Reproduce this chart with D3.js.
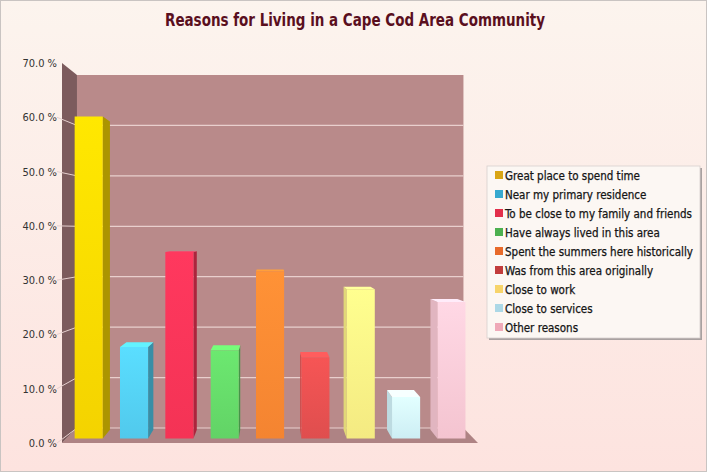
<!DOCTYPE html>
<html>
<head>
<meta charset="utf-8">
<script src="https://cdn.jsdelivr.net/npm/d3@7"></script>
<style>
  html, body { margin: 0; padding: 0; background: #fff; }
  svg { display: block; }
</style>
</head>
<body>
<svg id="chart"></svg>
<script>
const categories = [
  "Great place to spend time",
  "Near my primary residence",
  "To be close to my family and friends",
  "Have always lived in this area",
  "Spent the summers here historically",
  "Was from this area originally",
  "Close to work",
  "Close to services",
  "Other reasons"
];
const values = [60.6, 17.2, 35.1, 16.6, 31.5, 15.3, 28.1, 7.8, 25.7];
const yTicks = [0, 10, 20, 30, 40, 50, 60, 70];
const barColors = ["#ffdc00", "#55d2f6", "#ff3559", "#66dc6a", "#ff8a33", "#e95151", "#fff488", "#d6f8ff", "#ffcdd9"];
const legendColors = ["#d9a514", "#37a9cf", "#e2304c", "#4cb050", "#e86a2a", "#c23c3c", "#f7d46a", "#acd8e6", "#efa9b8"];

const W = 707, H = 472;
const svg = d3.select("#chart").attr("width", W).attr("height", H);
const defs = svg.append("defs");

const bg = defs.append("linearGradient").attr("id", "bg").attr("x1", 0).attr("y1", 0).attr("x2", 0).attr("y2", 1);
bg.append("stop").attr("offset", 0).attr("stop-color", "#fcf4ee");
bg.append("stop").attr("offset", 1).attr("stop-color", "#fde3df");
svg.append("rect").attr("x", 0.5).attr("y", 0.5).attr("width", W - 1).attr("height", H - 1)
  .attr("fill", "url(#bg)").attr("stroke", "#c9c4c2");

svg.append("text")
  .attr("x", 355).attr("y", 26)
  .attr("text-anchor", "middle")
  .attr("font-family", "DejaVu Sans Condensed, DejaVu Sans")
  .attr("font-weight", "bold")
  .attr("font-size", 17.5)
  .attr("textLength", 380).attr("lengthAdjust", "spacingAndGlyphs")
  .attr("fill", "#5a0f1e")
  .text("Reasons for Living in a Cape Cod Area Community");

// front-plane scales, then a simple perspective toward a vanishing point
const x = d3.scaleBand().domain(categories).range([62, 478]).paddingInner(0.38).paddingOuter(0.18);
const y = d3.scaleLinear().domain([0, 70]).range([443, 63]);
const VX = 273, VY = 232, K = 0.071;
const P = (px, py, t) => {
  const s = 1 - K * t;
  return [VX + (px - VX) * s, VY + (py - VY) * s];
};
const poly = pts => pts.map(p => p.join(",")).join(" ");

const x0 = 62, x1 = 478;
// floor
svg.append("polygon")
  .attr("points", poly([P(x0, y(0), 0), P(x1, y(0), 0), P(x1, y(0), 1), P(x0, y(0), 1)]))
  .attr("fill", "#ae8384");
// back wall
svg.append("polygon")
  .attr("points", poly([P(x0, y(70), 1), P(x1, y(70), 1), P(x1, y(0), 1), P(x0, y(0), 1)]))
  .attr("fill", "#b98a8a");
// left wall
svg.append("polygon")
  .attr("points", poly([P(x0, y(70), 0), P(x0, y(70), 1), P(x0, y(0), 1), P(x0, y(0), 0)]))
  .attr("fill", "#7c5b5d");

// grid lines on back wall and left wall
yTicks.filter(d => d < 70).forEach(d => {
  const a = P(x0, y(d), 1), b = P(x1, y(d), 1);
  svg.append("line").attr("x1", a[0]).attr("y1", a[1]).attr("x2", b[0]).attr("y2", b[1])
    .attr("stroke", "#e9cfcd").attr("stroke-width", 1.2);
  const c = P(x0, y(d), 0);
  svg.append("line").attr("x1", c[0] - 5).attr("y1", c[1]).attr("x2", a[0]).attr("y2", a[1])
    .attr("stroke", "#e6d0cf").attr("stroke-width", 1);
});

svg.append("g").selectAll("text").data(yTicks).join("text")
  .attr("x", 57).attr("y", d => y(d) + 4)
  .attr("text-anchor", "end")
  .attr("font-family", "DejaVu Sans Condensed, DejaVu Sans")
  .attr("font-size", 11)
  .attr("fill", "#333")
  .text(d => d.toFixed(1) + " %");

// bars
const t0 = 0.3, t1 = 0.88;
const bars = svg.append("g");
categories.forEach((c, i) => {
  const col = d3.color(barColors[i]);
  const bx0 = x(c), bx1 = x(c) + x.bandwidth();
  const top = y(values[i]), bot = y(0);
  const g = bars.append("g");

  const grad = defs.append("linearGradient").attr("id", "g" + i)
    .attr("x1", 0).attr("y1", 0).attr("x2", 0).attr("y2", 1);
  grad.append("stop").attr("offset", 0).attr("stop-color", col.brighter(0.15));
  grad.append("stop").attr("offset", 1).attr("stop-color", col.darker(0.12));

  if (bx1 < VX) {
    g.append("polygon")
      .attr("points", poly([P(bx1, top, t0), P(bx1, top, t1), P(bx1, bot, t1), P(bx1, bot, t0)]))
      .attr("fill", col.darker(1.1));
  } else if (bx0 > VX) {
    g.append("polygon")
      .attr("points", poly([P(bx0, top, t0), P(bx0, top, t1), P(bx0, bot, t1), P(bx0, bot, t0)]))
      .attr("fill", col.darker(0.35));
  }
  if (top > VY) {
    g.append("polygon")
      .attr("points", poly([P(bx0, top, t0), P(bx1, top, t0), P(bx1, top, t1), P(bx0, top, t1)]))
      .attr("fill", col.brighter(0.4));
  }
  g.append("polygon")
    .attr("points", poly([P(bx0, top, t0), P(bx1, top, t0), P(bx1, bot, t0), P(bx0, bot, t0)]))
    .attr("fill", "url(#g" + i + ")");
});

// legend
const lx = 487, ly = 166, lw = 213, lh = 172;
svg.append("rect").attr("x", lx + 2).attr("y", ly + 2).attr("width", lw).attr("height", lh)
  .attr("fill", "#a9a1a0");
svg.append("rect").attr("x", lx).attr("y", ly).attr("width", lw).attr("height", lh)
  .attr("fill", "#fcf7f3").attr("stroke", "#d8d0cd").attr("stroke-width", 0.8);

const items = svg.append("g").selectAll("g").data(categories).join("g")
  .attr("transform", (d, i) => `translate(${lx + 8},${ly + 5 + i * 19})`);
items.append("rect").attr("width", 8).attr("height", 8)
  .attr("fill", (d, i) => legendColors[i]);
items.append("text")
  .attr("x", 10).attr("y", 8.5)
  .attr("font-family", "DejaVu Sans Condensed, DejaVu Sans")
  .attr("font-size", 11.5)
  .attr("fill", "#151515")
  .attr("stroke", "#151515").attr("stroke-width", 0.25)
  .text(d => d);
</script>
</body>
</html>
